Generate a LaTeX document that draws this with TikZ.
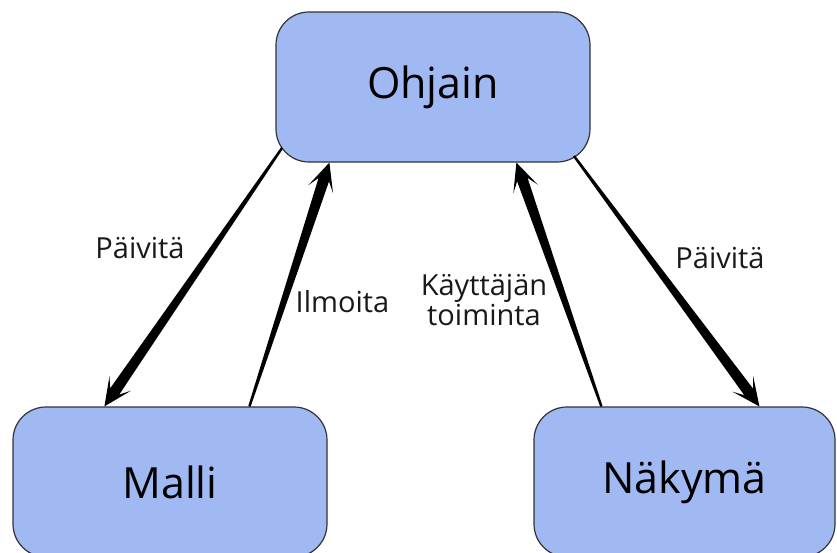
\documentclass[tikz,border=0pt]{standalone}
\usepackage{fontspec}
\setmainfont{Open Sans}
\usetikzlibrary{calc}
\definecolor{boxfill}{RGB}{161,185,242}
\definecolor{boxline}{RGB}{51,51,51}
\newcommand\taperarrow[2]{%
  \coordinate (tN) at ($(#2)!18pt!(#1)$);
  \coordinate (tB) at ($(#2)!28pt!(#1)$);
  \fill[black] ($(#1)!1.2pt!90:(#2)$) -- ($(tN)!5.5pt!90:(#2)$) -- ($(tB)!13pt!90:(#2)$) -- (#2)
    -- ($(tB)!13pt!-90:(#2)$) -- ($(tN)!5.5pt!-90:(#2)$) -- ($(#1)!1.2pt!-90:(#2)$) -- cycle;
}
\tikzset{
  mvcbox/.style={draw=boxline, line width=1.2pt, fill=boxfill, rounded corners=33pt,
    minimum height=150pt, inner sep=0pt, font=\fontsize{43}{50}\selectfont},
  lbl/.style={font=\fontsize{29}{30}\selectfont, inner sep=0pt, text=black!90, align=center}
}
\begin{document}
\begin{tikzpicture}[x=1pt,y=-1pt]
\clip (0,0) rectangle (837,552);
\fill[white] (0,0) rectangle (837,552);
\node[mvcbox, minimum width=314pt] (ohjain) at (433,87) {Ohjain};
\node[mvcbox, minimum width=314pt] (malli) at (170,482) {Malli};
\node[mvcbox, minimum width=301pt] (nakyma) at (684.5,482) {Näkymä};
% connector end points
\coordinate (a1s) at (282,148);
\coordinate (a1e) at ([xshift=92pt]malli.north west);
\coordinate (a2s) at ([xshift=237pt]malli.north west);
\coordinate (a2e) at ([xshift=54pt]ohjain.south west);
\coordinate (a3s) at ([xshift=68pt]nakyma.north west);
\coordinate (a3e) at ([xshift=241pt]ohjain.south west);
\coordinate (a4s) at (574,156);
\coordinate (a4e) at ([xshift=226pt]nakyma.north west);
\taperarrow{a1s}{a1e}
\taperarrow{a2s}{a2e}
\taperarrow{a3s}{a3e}
\taperarrow{a4s}{a4e}
\node[lbl, anchor=base] (l1) at (140,258) {Päivitä};
\node[lbl, anchor=base] (l2) at (342.5,312) {Ilmoita};
\node[lbl] (l3) at (484,300) {Käyttäjän\\toiminta};
\node[lbl, anchor=base] (l4) at (720,268) {Päivitä};
\end{tikzpicture}
\end{document}
